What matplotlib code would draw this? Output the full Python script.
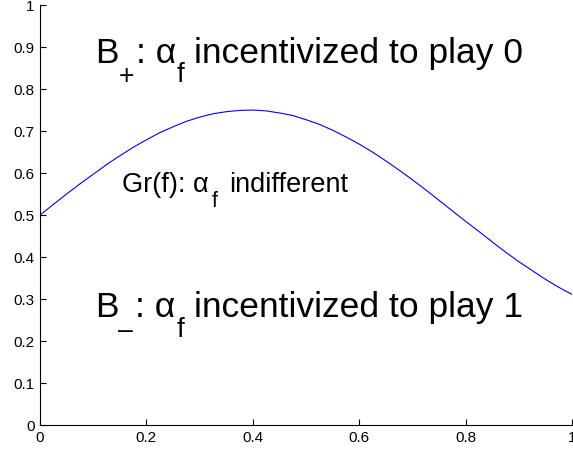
import numpy as np
import matplotlib
matplotlib.use('Agg')
import matplotlib.pyplot as plt
import matplotlib.transforms as mtransforms

plt.rcParams['font.family'] = ['Liberation Sans', 'DejaVu Sans']

# curve Gr(f)
x = [0, 0.025, 0.05, 0.075, 0.1, 0.125, 0.15, 0.175, 0.2, 0.225, 0.25,
     0.275, 0.3, 0.325, 0.35, 0.375, 0.4, 0.425, 0.45, 0.475, 0.5,
     0.525, 0.55, 0.575, 0.6, 0.625, 0.65, 0.675, 0.7, 0.725, 0.75,
     0.775, 0.8, 0.825, 0.85, 0.875, 0.9, 0.925, 0.95, 0.975, 1.0]
y = [0.500, 0.525, 0.550, 0.574, 0.597, 0.620, 0.641, 0.661, 0.679, 0.696, 0.710,
     0.723, 0.733, 0.741, 0.746, 0.749, 0.750, 0.748, 0.743, 0.737, 0.727,
     0.716, 0.702, 0.686, 0.669, 0.650, 0.629, 0.607, 0.584, 0.560, 0.535,
     0.510, 0.485, 0.461, 0.436, 0.412, 0.389, 0.368, 0.347, 0.328, 0.311]

xticks = [0, 0.2, 0.4, 0.6, 0.8, 1]
xlabels = ['0', '0.2', '0.4', '0.6', '0.8', '1']
yticks = [0, 0.1, 0.2, 0.3, 0.4, 0.5, 0.6, 0.7, 0.8, 0.9, 1]
ylabels = ['0', '0.1', '0.2', '0.3', '0.4', '0.5', '0.6', '0.7', '0.8', '0.9', '1']

# (text, size scale, baseline shift in em, gap before in em) - MATLAB-like subscripts
top_parts = [('B', 1, 0, 0), ('+', 0.75, -0.6, 0), (': \u03b1', 1, 0, 0.05), ('f', 0.78, -0.55, 0.03),
             ('incentivized to play 0', 1, 0, 0.27)]
mid_parts = [('Gr(f): \u03b1', 1, 0, 0), ('f', 0.8, -0.55, 0.1), ('indifferent', 1, 0, 0.45)]
bot_parts = [('B', 1, 0, 0), ('\u2013', 0.75, -0.6, 0), (': \u03b1', 1, 0, 0.05), ('f', 0.78, -0.55, 0.03),
             ('incentivized to play 1', 1, 0, 0.27)]

fig = plt.figure(figsize=(5.73, 4.57), dpi=100)
ax = fig.add_axes([0.0698, 0.070, 0.9284, 0.919])

ax.plot(x, y, color='#0000ff', linewidth=0.8)

ax.set_xlim(0, 1)
ax.set_ylim(0, 1)
ax.set_xticks(xticks)
ax.set_xticklabels(xlabels)
ax.set_yticks(yticks)
ax.set_yticklabels(ylabels)
ax.tick_params(direction='in', length=4, width=0.8, labelsize=11, pad=4)
ax.spines['top'].set_visible(False)
ax.spines['right'].set_visible(False)

renderer = fig.canvas.get_renderer()


def put_text(x0, y0, parts, size):
    dx = 0
    for s, scale, shift, gap in parts:
        dx += gap * size
        tr = mtransforms.offset_copy(ax.transData, fig=fig, x=dx, y=shift * size, units='points')
        t = ax.text(x0, y0, s, fontsize=size * scale, transform=tr)
        bb = t.get_window_extent(renderer)
        dx += bb.width * 72 / fig.dpi


put_text(0.103, 0.863, top_parts, 25.5)
put_text(0.154, 0.555, mid_parts, 19.5)
put_text(0.103, 0.257, bot_parts, 25.5)

fig.savefig('out.png', dpi=100)
